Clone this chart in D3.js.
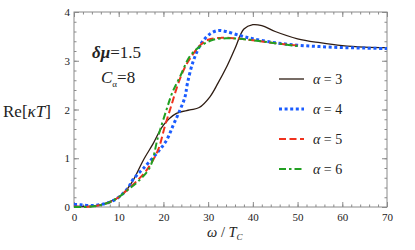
<!doctype html>
<html lang="en">
<head>
  <meta charset="utf-8">
  <title>Re[κT] vs ω/Tc</title>
</head>
<body style="margin: 0; background: #fff;">
  <svg></svg>
  <script src="https://cdn.jsdelivr.net/npm/d3@7/dist/d3.min.js"></script>
  <script>
    const width = 415;
    const height = 250;
    const margin = { top: 12, right: 28, bottom: 43, left: 74 };
    const serif = '"Liberation Serif"';

    const w3 = [0, 2, 4, 6, 8, 10, 12, 13.25, 15.5, 17.7, 20, 22.9, 25.9, 28, 30.4, 32.2, 34, 36, 38, 40, 42, 45, 50, 55, 60, 65, 70];
    const v3 = [0.02, 0.01, 0.02, 0.05, 0.11, 0.2, 0.38, 0.55, 0.96, 1.3, 1.68, 1.92, 1.99, 2.04, 2.26, 2.54, 2.85, 3.25, 3.65, 3.74, 3.72, 3.6, 3.45, 3.37, 3.31, 3.28, 3.27];

    const w4 = [0, 1, 2, 4, 6, 8, 10, 12, 13.25, 15.5, 18.5, 20.7, 22.2, 23.7, 24.8, 25.4, 26.7, 28.5, 30.4, 32.2, 34, 37, 40, 45, 50, 55, 60, 65, 70];
    const v4 = [0.05, 0.05, 0.04, 0.03, 0.05, 0.1, 0.2, 0.38, 0.57, 0.79, 1.1, 1.37, 1.68, 1.99, 2.25, 2.55, 3.0, 3.36, 3.55, 3.62, 3.6, 3.52, 3.45, 3.37, 3.32, 3.29, 3.27, 3.26, 3.25];

    const w5 = [0, 2, 4, 6, 8, 10, 12, 14, 16.2, 18.8, 20.3, 21.8, 23, 24, 25, 26, 28, 30, 33, 36, 40, 45, 50];
    const v5 = [0.01, 0.0, 0.01, 0.04, 0.1, 0.2, 0.36, 0.53, 0.75, 1.17, 1.65, 2.09, 2.45, 2.7, 2.9, 3.05, 3.3, 3.43, 3.47, 3.46, 3.42, 3.36, 3.31];

    const w6 = [0, 2, 4, 6, 8, 10, 12, 14.4, 17, 18.8, 20.7, 22, 23.7, 25.9, 28.1, 31.1, 34, 37, 40, 45, 50];
    const v6 = [0.0, 0.0, 0.01, 0.04, 0.1, 0.2, 0.35, 0.53, 0.82, 1.44, 2.0, 2.35, 2.67, 3.09, 3.29, 3.43, 3.46, 3.45, 3.42, 3.36, 3.3];

    const xTicks = [0, 10, 20, 30, 40, 50, 60, 70];
    const yTicks = [0, 1, 2, 3, 4];
    const alphas = [3, 4, 5, 6];

    const series = [
      { w: w3, v: v3, color: '#2e1c12', width: 1.3, dash: null },
      { w: w4, v: v4, color: '#1a5cff', width: 3, dash: '3,2.6' },
      { w: w5, v: v5, color: '#f0321e', width: 2, dash: '7,3.5' },
      { w: w6, v: v6, color: '#22a022', width: 2, dash: '7,3,2.5,3' }
    ];

    const svg = d3.select('svg')
      .attr('width', width)
      .attr('height', height)
      .attr('viewBox', [0, 0, width, height])
      .style('font-family', serif);

    const x = d3.scaleLinear().domain([0, 70]).range([margin.left, width - margin.right]);
    const y = d3.scaleLinear().domain([0, 4]).range([height - margin.bottom, margin.top]);

    const minorX = d3.range(0, 70.01, 2);
    const minorY = d3.range(0, 4.01, 0.2);
    const axisColor = '#8a8a8a';

    // 坐标轴：刻度朝内，四边都有
    function drawAxis(axisFn, scale, translate, major, minor, labels, pad) {
      svg.append('g')
        .attr('transform', translate)
        .call(axisFn(scale).tickValues(minor).tickSize(-2.5).tickFormat(''))
        .call(g => g.select('.domain').remove())
        .call(g => g.selectAll('line').attr('stroke', axisColor));
      const g = svg.append('g')
        .attr('transform', translate)
        .call(axisFn(scale).tickValues(major).tickSize(-5).tickPadding(pad).tickFormat(labels ? d3.format('d') : ''))
        .call(g => g.select('.domain').remove())
        .call(g => g.selectAll('line').attr('stroke', axisColor));
      g.selectAll('text')
        .style('font-family', serif)
        .style('font-size', '11px')
        .attr('fill', '#222');
      return g;
    }

    drawAxis(d3.axisBottom, x, `translate(0,${height - margin.bottom})`, xTicks, minorX, true, 6);
    drawAxis(d3.axisTop, x, `translate(0,${margin.top})`, xTicks, minorX, false, 6);
    drawAxis(d3.axisLeft, y, `translate(${margin.left},0)`, yTicks, minorY, true, 4);
    drawAxis(d3.axisRight, y, `translate(${width - margin.right},0)`, yTicks, minorY, false, 4);

    svg.append('rect')
      .attr('x', margin.left)
      .attr('y', margin.top)
      .attr('width', width - margin.left - margin.right)
      .attr('height', height - margin.top - margin.bottom)
      .attr('fill', 'none')
      .attr('stroke', axisColor)
      .attr('stroke-width', 1);

    // 曲线
    const line = d3.line()
      .x(d => x(d[0]))
      .y(d => y(d[1]))
      .curve(d3.curveCatmullRom.alpha(0.5));

    series.forEach(s => {
      svg.append('path')
        .datum(d3.zip(s.w, s.v))
        .attr('d', line)
        .attr('fill', 'none')
        .attr('stroke', s.color)
        .attr('stroke-width', s.width)
        .attr('stroke-dasharray', s.dash);
    });

    const addText = (xPos, yPos, size, markup) => svg.append('text')
      .attr('x', xPos).attr('y', yPos)
      .attr('fill', '#222')
      .style('font-family', serif)
      .style('font-size', size + 'px')
      .html(markup);

    // 图例
    series.forEach((s, i) => {
      const yy = 79 + i * 30;
      svg.append('line')
        .attr('x1', 279).attr('x2', 304)
        .attr('y1', yy).attr('y2', yy)
        .attr('stroke', s.color)
        .attr('stroke-width', s.width)
        .attr('stroke-dasharray', s.dash);
      addText(313, yy + 5, 14, `<tspan font-style="italic">α</tspan> = ${alphas[i]}`);
    });

    // 注释
    addText(92, 58, 17, '<tspan font-style="italic" font-weight="bold">δμ</tspan>=1.5');
    addText(101, 83, 17, '<tspan font-style="italic">C</tspan><tspan font-size="9" dy="4">α</tspan><tspan dy="-4">=8</tspan>');

    // 轴标题
    addText(3, 117, 17, 'Re[<tspan font-style="italic">κT</tspan>]');
    addText(207, 237, 14.5, '<tspan font-style="italic">ω</tspan> / <tspan font-style="italic">T</tspan><tspan font-size="9" dy="3" font-style="italic">C</tspan>');
  </script>
</body>
</html>
